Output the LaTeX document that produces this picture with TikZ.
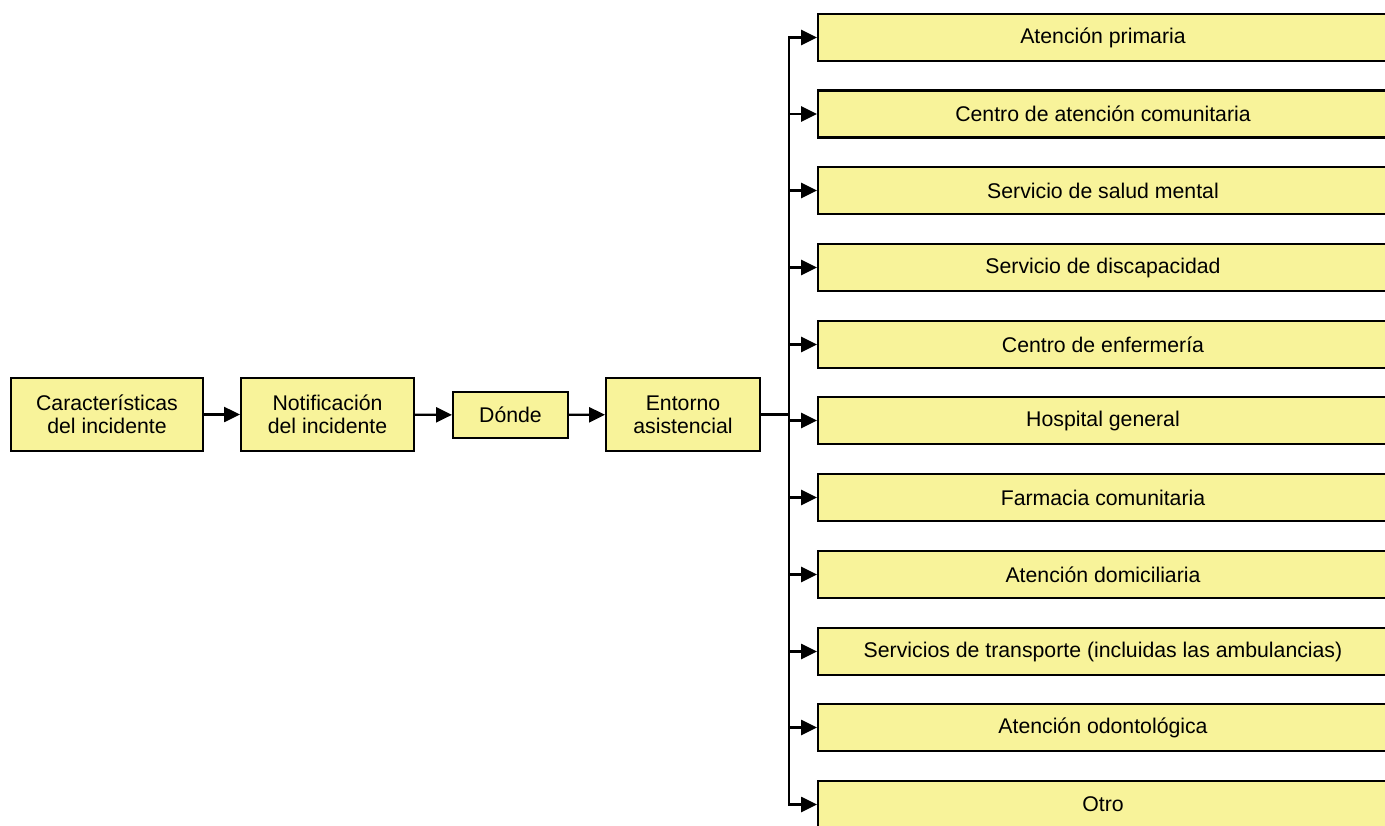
\documentclass[tikz,border=0pt]{standalone}
\usepackage{fontspec}
\setmainfont{Liberation Sans}
\usetikzlibrary{arrows.meta}
\definecolor{boxfill}{RGB}{248,243,154}

\begin{document}
\begin{tikzpicture}[
  x=0.02cm, y=-0.02cm,
  txt/.style={font=\fontsize{12.1}{13.1}\selectfont, align=center, inner sep=0pt},
  stepbox/.style={txt, rectangle, draw=black, line width=1.2pt, fill=boxfill, minimum height=1.46cm},
  placebox/.style={txt, rectangle, draw=black, line width=1.2pt, fill=boxfill, minimum width=11.4cm, minimum height=0.94cm},
  conn/.style={draw=black, line width=1.3pt, -{Triangle[length=9pt,width=8.5pt]}},
  trunk/.style={draw=black, line width=1.3pt}
]
\useasboundingbox (0,0) rectangle (1385,825);

\node[stepbox, minimum width=3.84cm] (car) at (107, 414.5) {Características\\del incidente};
\node[stepbox, minimum width=3.46cm] (not) at (327.5, 414.5) {Notificación\\del incidente};
\node[stepbox, minimum width=2.3cm, minimum height=0.92cm] (don) at (510.5, 415) {Dónde};
\node[stepbox, minimum width=3.08cm] (ent) at (683, 414.5) {Entorno\\asistencial};
\coordinate (jn) at (789, 414.5);

\node[placebox] (p1) at (1103, 37.5) {Atención primaria};
\node[placebox] (p2) at (1103, 114) {Centro de atención comunitaria};
\node[placebox] (p3) at (1103, 190.5) {Servicio de salud mental};
\node[placebox] (p4) at (1103, 267.5) {Servicio de discapacidad};
\node[placebox] (p5) at (1103, 344.5) {Centro de enfermería};
\node[placebox] (p6) at (1103, 420.5) {Hospital general};
\node[placebox] (p7) at (1103, 497.5) {Farmacia comunitaria};
\node[placebox] (p8) at (1103, 574.5) {Atención domiciliaria};
\node[placebox] (p9) at (1103, 651.5) {Servicios de transporte (incluidas las ambulancias)};
\node[placebox] (p10) at (1103, 727.5) {Atención odontológica};
\node[placebox] (p11) at (1103, 804.5) {Otro};

\draw[conn] (car) -- (not);
\draw[conn] (not) -- (don);
\draw[conn] (don) -- (ent);
\draw[trunk] (ent.east) -- (jn);
\draw[conn] (jn) |- (p1.west);
\draw[conn] (jn) |- (p2.west);
\draw[conn] (jn) |- (p3.west);
\draw[conn] (jn) |- (p4.west);
\draw[conn] (jn) |- (p5.west);
\draw[conn] (jn) |- (p6.west);
\draw[conn] (jn) |- (p7.west);
\draw[conn] (jn) |- (p8.west);
\draw[conn] (jn) |- (p9.west);
\draw[conn] (jn) |- (p10.west);
\draw[conn] (jn) |- (p11.west);

\end{tikzpicture}
\end{document}
